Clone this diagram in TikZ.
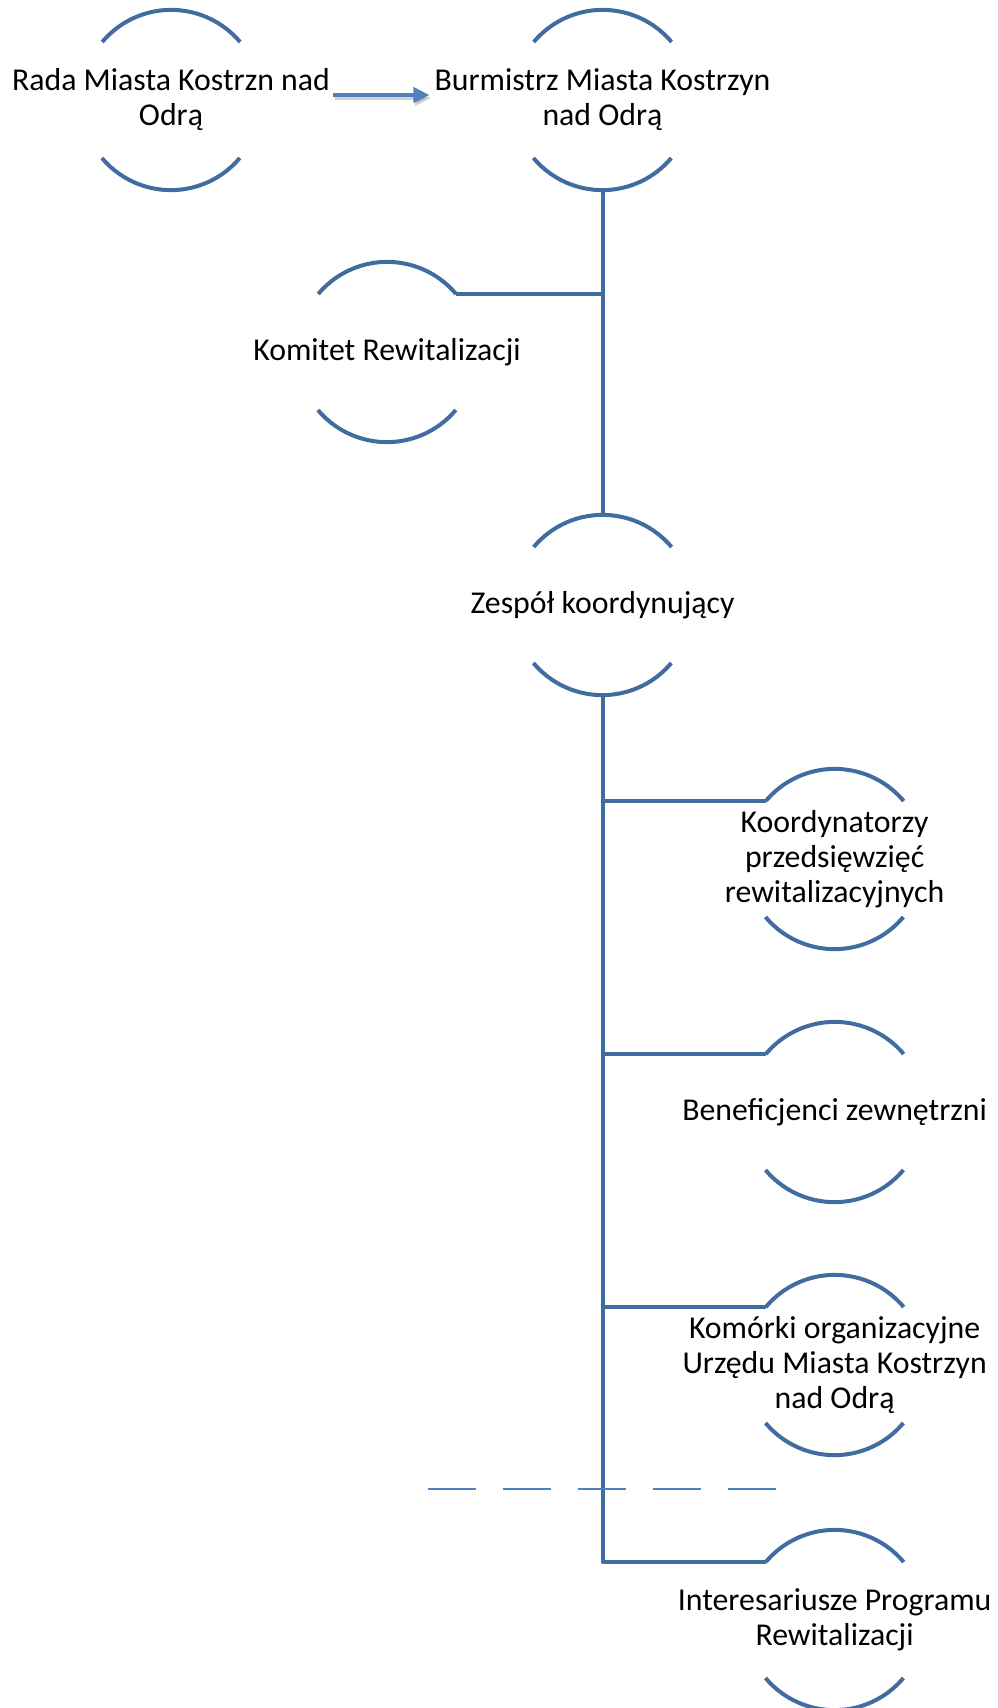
\documentclass[tikz,border=0pt]{standalone}
\usepackage{fontspec}
\setmainfont{Carlito}
\usetikzlibrary{arrows.meta}
\definecolor{arcblue}{RGB}{65,108,160}
\definecolor{lightblue}{RGB}{79,129,189}
\begin{document}
\begin{tikzpicture}[x=1pt,y=1pt,
  ring/.style={circle,minimum size=180pt,inner sep=0pt,draw=none},
  lbl/.style={align=center,inner sep=0pt,font=\fontsize{31.8}{35}\selectfont},
  arcline/.style={draw=arcblue,line width=4pt},
  conn/.style={draw=arcblue,line width=4pt,line join=round},
  arrowline/.style={draw=lightblue,line width=4pt,-{Triangle[length=16pt,width=15pt]}},
  shadowline/.style={draw=black,opacity=0.18,line width=4.5pt,-{Triangle[length=16pt,width=15pt]}},
  dashline/.style={draw=lightblue,line width=1.6pt,dash pattern=on 48pt off 27pt}]
\useasboundingbox (0,0) rectangle (997,-1708);
% rings
\node[ring] (c1) at (171,-100) {};
\node[ring] (c2) at (602.5,-100) {};
\node[ring] (c3) at (387,-352) {};
\node[ring] (c4) at (602.5,-605) {};
\node[ring] (c5) at (834.6,-859) {};
\node[ring] (c6) at (834.6,-1112) {};
\node[ring] (c7) at (834.6,-1365) {};
\node[ring] (c8) at (834.6,-1620) {};
\foreach \n in {c1,c2,c3,c4,c5,c6,c7,c8}{
  \draw[arcline] (\n.40) arc[start angle=40,end angle=140,radius=90pt];
  \draw[arcline] (\n.220) arc[start angle=220,end angle=320,radius=90pt];
}
% labels
\node[lbl] (t1) at (c1) {Rada Miasta Kostrzn nad\\Odrą};
\node[lbl] (t2) at (c2) {Burmistrz Miasta Kostrzyn\\nad Odrą};
\node[lbl] (t3) at (c3) {Komitet Rewitalizacji};
\node[lbl] (t4) at (c4) {Zespół koordynujący};
\node[lbl] (t5) at (c5) {Koordynatorzy\\przedsięwzięć\\rewitalizacyjnych};
\node[lbl] (t6) at (c6) {Beneficjenci zewnętrzni};
\node[lbl] (t7) at (c7) {Komórki organizacyjne\\Urzędu Miasta Kostrzyn\\nad Odrą};
\node[lbl] (t8) at (c8) {Interesariusze Programu\\Rewitalizacji};
% arrow
\coordinate (a1) at ([xshift=3pt,yshift=5pt]t1.east);
\coordinate (a2) at ([xshift=-5pt,yshift=5pt]t2.west);
\draw[shadowline] ([xshift=1.5pt,yshift=-3pt]a1) -- ([xshift=1.5pt,yshift=-3pt]a2);
\draw[arrowline] (a1) -- (a2);
% connectors
\draw[conn] (c2.south) -- (c4.north);
\draw[conn] (c3.40) -- (c3.40 -| c2.south);
\coordinate (b8) at (c8.140 -| c4.south);
\draw[conn] (c4.south) -- (b8) -- (c8.140);
\draw[conn] (c5.140 -| c4.south) -- (c5.140);
\draw[conn] (c6.140 -| c4.south) -- (c6.140);
\draw[conn] (c7.140 -| c4.south) -- (c7.140);
% dashed separator
\coordinate (d1) at (428,-1489);
\coordinate (d2) at (777,-1489);
\draw[dashline] (d1) -- (d2);
\end{tikzpicture}
\end{document}
